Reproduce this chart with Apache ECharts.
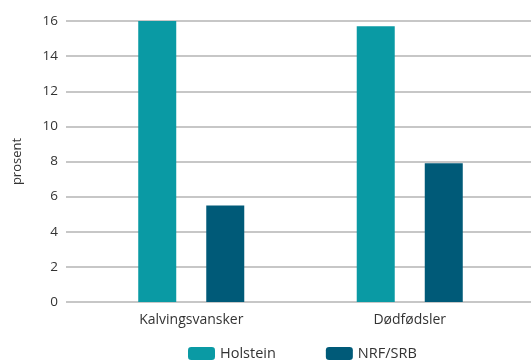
<!DOCTYPE html>
<html>
<head>
<meta charset="utf-8">
<script src="https://cdn.jsdelivr.net/npm/echarts@6/dist/echarts.min.js"></script>
<style>
  html, body { margin: 0; padding: 0; background: #fff; }
  #chart { width: 531px; height: 361px; }
</style>
</head>
<body>
<div id="chart"></div>
<script>
// Calving difficulty and stillbirth rates by breed (percent)
const categories = ['Kalvingsvansker', 'Dødfødsler'];
const holstein = [16.0, 15.7];
const nrfSrb = [5.5, 7.9];
const yTicks = { min: 0, max: 16, interval: 2 };

const fontFamily = '"Open Sans", "Noto Sans", sans-serif';
const textColor = '#333';

const chart = echarts.init(document.getElementById('chart'));
chart.setOption({
  animation: false,
  textStyle: { fontFamily },
  grid: [
    // background grid carrying the value axis and gridlines
    { left: 66, right: 0, top: 21, bottom: 59 },
    // grid carrying the bars and category labels
    { left: 82, right: 12, top: 21, bottom: 59 }
  ],
  legend: {
    data: ['Holstein', 'NRF/SRB'],
    left: 183,
    top: 345,
    padding: [1, 5],
    itemWidth: 27,
    itemHeight: 13,
    itemGap: 50,
    textStyle: { fontSize: 14.5, color: textColor, fontFamily }
  },
  xAxis: [
    { gridIndex: 0, type: 'category', data: [''], show: false },
    {
      gridIndex: 1,
      type: 'category',
      data: categories,
      axisLine: { show: false },
      axisTick: { show: false },
      axisLabel: { fontSize: 14, color: textColor, margin: 11, fontFamily }
    }
  ],
  yAxis: [
    {
      gridIndex: 0,
      type: 'value',
      min: yTicks.min,
      max: yTicks.max,
      interval: yTicks.interval,
      name: 'prosent',
      nameLocation: 'middle',
      nameGap: 42,
      nameTextStyle: { fontSize: 13, color: textColor, fontFamily },
      axisLine: { show: false },
      axisTick: { show: false },
      axisLabel: { fontSize: 13.5, color: textColor, margin: 8, fontFamily },
      splitLine: { lineStyle: { color: '#b4b4b4', width: 1.5 } }
    },
    {
      gridIndex: 1,
      type: 'value',
      min: yTicks.min,
      max: yTicks.max,
      interval: yTicks.interval,
      show: false
    }
  ],
  series: [
    {
      name: 'Holstein',
      type: 'bar',
      xAxisIndex: 1,
      yAxisIndex: 1,
      data: holstein,
      barWidth: 38,
      barGap: '79%',
      itemStyle: { color: '#0a9aa4' }
    },
    {
      name: 'NRF/SRB',
      type: 'bar',
      xAxisIndex: 1,
      yAxisIndex: 1,
      data: nrfSrb,
      barWidth: 38,
      itemStyle: { color: '#005a78' }
    }
  ]
});
</script>
</body>
</html>
